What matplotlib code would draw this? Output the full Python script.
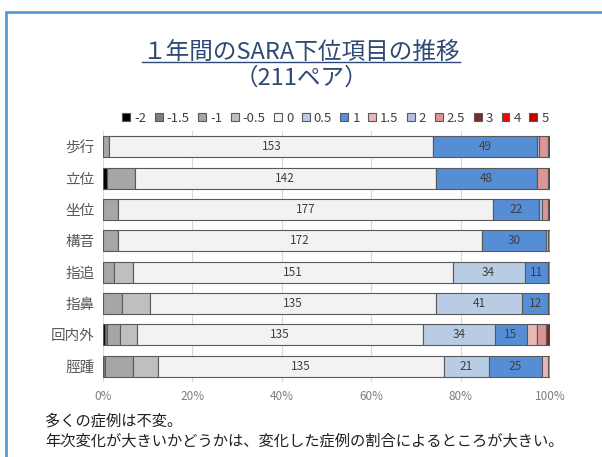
import matplotlib
matplotlib.use("Agg")
import matplotlib.pyplot as plt
from matplotlib.patches import Rectangle
from matplotlib.lines import Line2D
import numpy as np

plt.rcParams['font.family'] = ['Noto Sans CJK JP', 'DejaVu Sans']

items = ['歩行', '立位', '坐位', '構音', '指追', '指鼻', '回内外', '脛踵']
series = ['-2', '-1.5', '-1', '-0.5', '0', '0.5', '1', '1.5', '2', '2.5', '3', '4', '5']
colors = ['#000000', '#7f7f7f', '#a6a6a6', '#bfbfbf', '#f2f2f2', '#b8cce4', '#558ed5',
          '#e6b9b8', '#b7bde3', '#d99694', '#7b2c2a', '#ff0000', '#c00000']

# counts per item, one list per change score (211 pairs each row)
v_m2  = [0, 2, 0, 0, 0, 0, 1, 0]
v_m15 = [0, 0, 0, 0, 0, 0, 1, 1]
v_m1  = [3, 13, 7, 7, 5, 9, 6, 13]
v_m05 = [0, 0, 0, 0, 9, 13, 8, 12]
v_0   = [153, 142, 177, 172, 151, 135, 135, 135]
v_05  = [0, 0, 0, 0, 34, 41, 34, 21]
v_1   = [49, 48, 22, 30, 11, 12, 15, 25]
v_15  = [0, 0, 0, 1, 0, 0, 5, 3]
v_2   = [1, 0, 1, 0, 0, 0, 0, 1]
v_25  = [4, 5, 3, 1, 1, 1, 4, 0]
v_3   = [0, 1, 1, 0, 0, 0, 2, 0]
v_4   = [1, 0, 0, 0, 0, 0, 0, 0]
v_5   = [0, 0, 0, 0, 0, 0, 0, 0]

data = np.array([v_m2, v_m15, v_m1, v_m05, v_0, v_05, v_1, v_15, v_2, v_25, v_3, v_4, v_5], dtype=float)
totals = data.sum(axis=0)
frac = data / totals
labeled = ['0', '0.5', '1']

fig = plt.figure(figsize=(6.02, 4.57), dpi=100)
fig.patches.append(Rectangle((6/602, -0.05), 1.0, 1 - 12/457 + 0.05, transform=fig.transFigure,
                             fill=False, edgecolor='#5b9bd5', linewidth=2))

ax = fig.add_axes([103/602, 1 - 382/457, 447/602, 251/457])
y = np.arange(len(items))
left = np.zeros(len(items))
for i, s in enumerate(series):
    ax.barh(y, frac[i], left=left, height=0.67, color=colors[i],
            edgecolor='#595959', linewidth=0.8, label=s, zorder=3)
    if s in labeled:
        for j in range(len(items)):
            if data[i, j] > 0:
                ax.text(left[j] + frac[i, j] / 2, y[j], f"{int(data[i, j])}",
                        ha='center', va='center', fontsize=8.5, color='#404040', zorder=4)
    left += frac[i]

ax.set_xlim(0, 1)
ax.set_ylim(len(items) - 0.5, -0.5)
ax.set_yticks(y)
ax.set_yticklabels(items, fontsize=10.5, color='#595959')
ax.set_xticks(np.linspace(0, 1, 6))
ax.set_xticklabels([f"{p}%" for p in range(0, 101, 20)], fontsize=8.5, color='#7f7f7f')
ax.tick_params(length=0, pad=6)
ax.grid(axis='x', color='#d9d9d9', linewidth=0.8, zorder=0)
for sp in ax.spines.values():
    sp.set_visible(False)

leg = ax.legend(ncol=13, loc='center', bbox_to_anchor=(0.52, 1 + 13/251), frameon=False,
                fontsize=9.5, handlelength=0.6, handleheight=0.6, handletextpad=0.3,
                columnspacing=0.65, borderaxespad=0)
for t in leg.get_texts():
    t.set_color('#404040')

title = fig.text(0.5, 1 - 52/457, '１年間のSARA下位項目の推移', ha='center', va='center',
                 fontsize=17, color='#2f4a75')
fig.text(0.5, 1 - 78/457, '（211ペア）', ha='center', va='center', fontsize=17, color='#2f4a75')

fig.canvas.draw()
bb = title.get_window_extent().transformed(fig.transFigure.inverted())
fig.add_artist(Line2D([bb.x0, bb.x1], [bb.y0 + 0.004, bb.y0 + 0.004], transform=fig.transFigure,
                      color='#2f4a75', linewidth=1))

fig.text(45/602, 1 - 421/457, '多くの症例は不変。', ha='left', va='center', fontsize=11, color='#202020')
fig.text(45/602, 1 - 441/457, '年次変化が大きいかどうかは、変化した症例の割合によるところが大きい。',
         ha='left', va='center', fontsize=11, color='#202020')

fig.savefig('out.png', dpi=100)
